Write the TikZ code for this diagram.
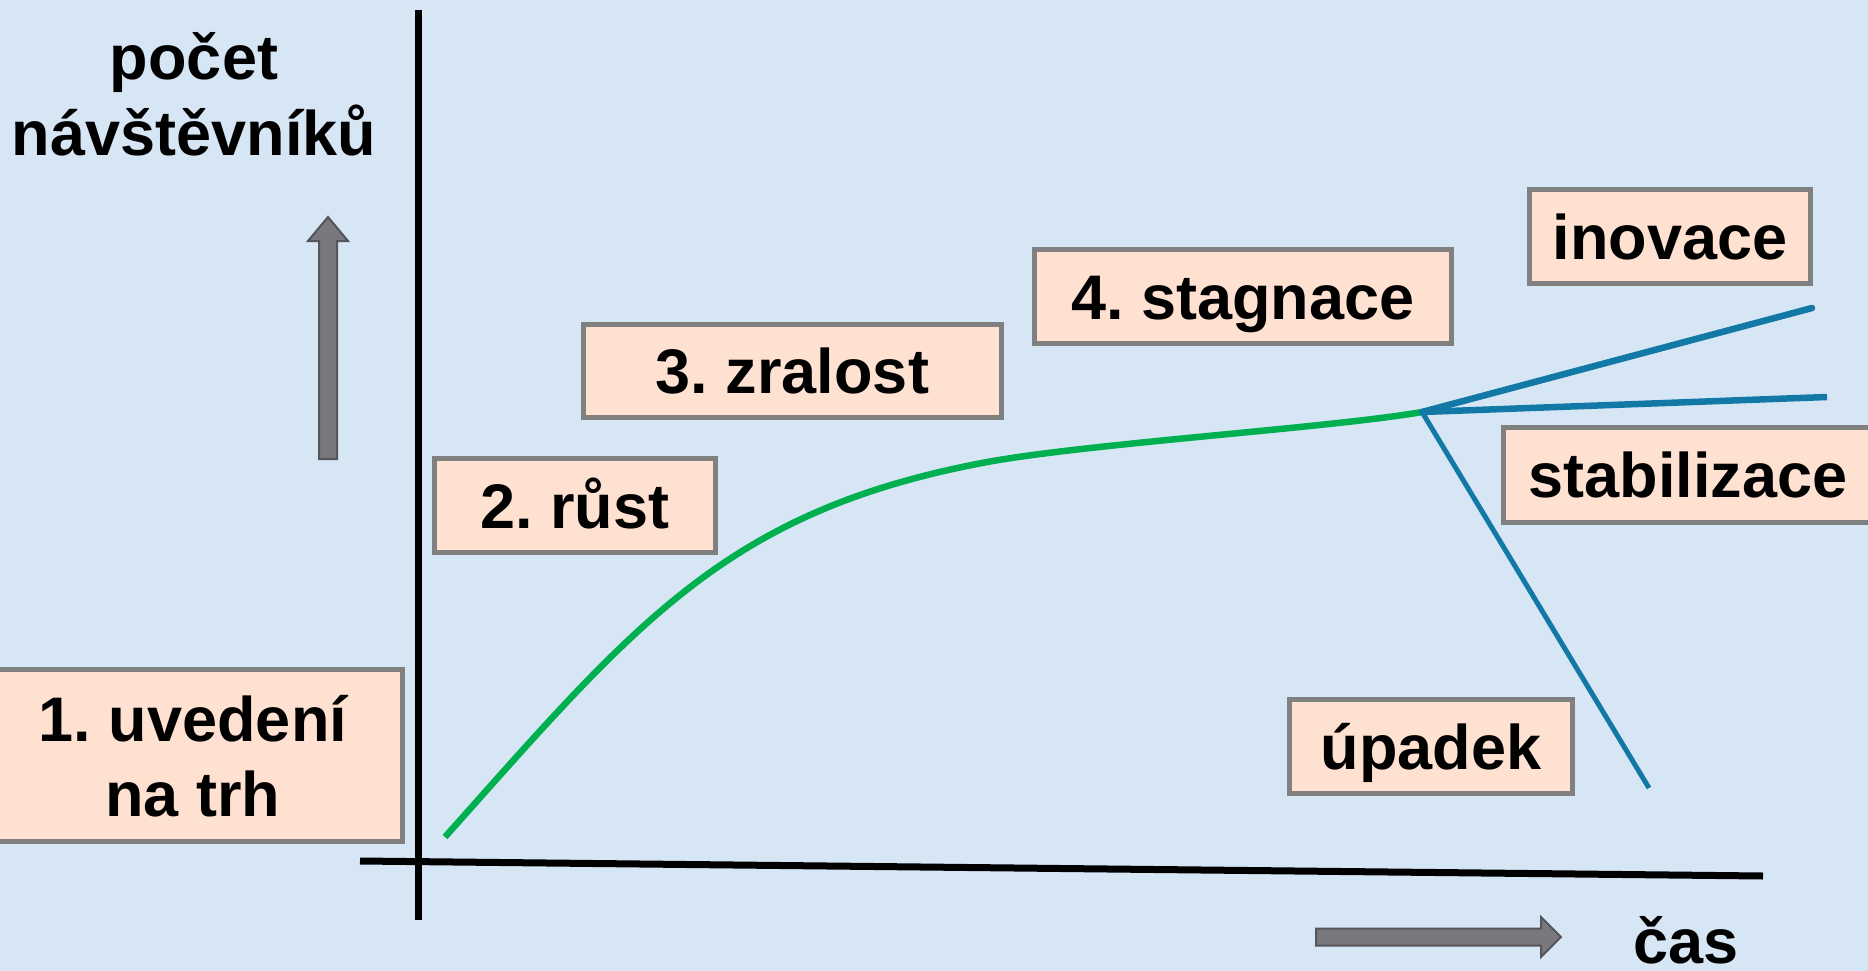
\documentclass[tikz,border=0pt]{standalone}
\usepackage{fontspec}
\setmainfont{Liberation Sans}
\definecolor{bg}{RGB}{214,230,245}
\definecolor{boxfill}{RGB}{255,225,210}
\definecolor{boxgray}{RGB}{128,128,128}
\definecolor{curvegreen}{RGB}{0,176,80}
\definecolor{branchblue}{RGB}{18,120,165}
\definecolor{arrowfill}{RGB}{120,120,125}
\definecolor{arrowedge}{RGB}{85,85,90}
\tikzset{
  bigfont/.style={font=\fontsize{63}{75}\selectfont\bfseries\frenchspacing},
  stagebox/.style={draw=boxgray, line width=5pt, fill=boxfill, rectangle, inner sep=0pt,
    bigfont, text height=45pt, text depth=0pt},
  plain/.style={inner sep=0pt, bigfont},
  axisline/.style={draw=black, line width=7pt},
  greenline/.style={draw=curvegreen, line width=6.5pt},
  blueline/.style={draw=branchblue, line width=6.5pt},
  blockarrow/.style={fill=arrowfill, draw=arrowedge, line width=2pt, line join=miter}
}
\frenchspacing
\begin{document}
\begin{tikzpicture}[x=1pt,y=-1pt]
\useasboundingbox (0,0) rectangle (1868,971);
\clip (0,0) rectangle (1868,971);
\fill[bg] (0,0) rectangle (1868,971);

% axes
\coordinate (ytop) at (418,10);
\coordinate (ybot) at (418,920);
\coordinate (xleft) at (360,861);
\coordinate (xright) at (1763,876);
\draw[axisline] (ytop) -- (ybot);
\draw[axisline] (xleft) -- (xright);

% axis labels
\node[plain, anchor=base] (ylab1) at (194,80) {počet};
\node[plain, anchor=base] (ylab2) at (194,155) {návštěvníků};
\node[plain, anchor=base] (xlab) at (1686,963) {čas};

% block arrows
\draw[blockarrow] (319,459) -- (319,241) -- (308,241) -- (328,217) -- (348,241) -- (337,241) -- (337,459) -- cycle;
\draw[blockarrow] (1316,928.5) -- (1541,928.5) -- (1541,917) -- (1561,937) -- (1541,957) -- (1541,945.5) -- (1316,945.5) -- cycle;

% curves
\coordinate (gstart) at (445,837);
\coordinate (gmid) at (982,463);
\coordinate (branch) at (1422,412);
\coordinate (inoend) at (1812,308);
\coordinate (stabend) at (1827,397);
\coordinate (upadend) at (1649,788);
\draw[greenline] (gstart) .. controls (635,624) and (725,512) .. (gmid)
  .. controls (1080,444) and (1330,428) .. (branch);
\draw[blueline, line cap=round] (branch) -- (inoend);
\draw[blueline] (branch) -- (stabend);
\draw[blueline, line width=5pt] (branch) -- (upadend);

% stage boxes
\node[stagebox, minimum width=420pt, minimum height=172pt] (b1) at (192.5,755.5) {};
\node[plain, anchor=base] (b1a) at (193,741) {1. uvedení};
\node[plain, anchor=base] (b1b) at (193,816) {na trh};
\node[stagebox, minimum width=281pt, minimum height=94pt] (b2) at (575,505.5) {2. růst};
\node[stagebox, minimum width=418pt, minimum height=93pt] (b3) at (792.5,371) {3. zralost};
\node[stagebox, minimum width=417pt, minimum height=94pt] (b4) at (1243,296.5) {4. stagnace};
\node[stagebox, minimum width=281pt, minimum height=94pt] (binov) at (1670,236.5) {inovace};
\node[stagebox, minimum width=369pt, minimum height=95pt] (bstab) at (1688,475) {stabilizace};
\node[stagebox, minimum width=283pt, minimum height=94pt] (bupad) at (1431,746.5) {úpadek};
\end{tikzpicture}
\end{document}
